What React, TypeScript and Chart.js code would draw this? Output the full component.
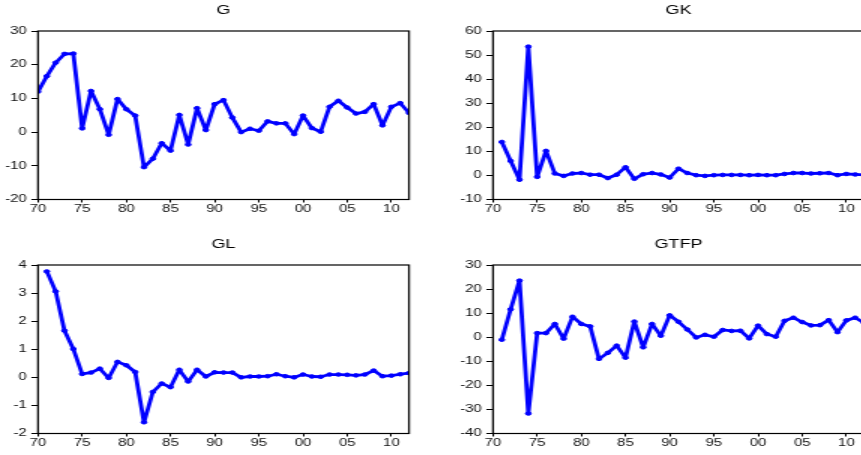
import React, { useEffect, useRef } from 'react';
import { Chart, registerables } from 'chart.js';

Chart.register(...registerables);

// ---- data -------------------------------------------------------------
const years = [
  1970, 1971, 1972, 1973, 1974, 1975, 1976, 1977, 1978, 1979,
  1980, 1981, 1982, 1983, 1984, 1985, 1986, 1987, 1988, 1989,
  1990, 1991, 1992, 1993, 1994, 1995, 1996, 1997, 1998, 1999,
  2000, 2001, 2002, 2003, 2004, 2005, 2006, 2007, 2008, 2009,
  2010, 2011, 2012,
];

// G : 1970-2012
const gValues = [
  12.0, 16.6, 20.6, 23.2, 23.3, 1.1, 12.2, 6.8, -0.8, 9.8,
  6.8, 4.9, -10.4, -7.9, -3.3, -5.5, 5.1, -3.7, 7.1, 0.6,
  8.3, 9.5, 4.3, 0.0, 1.0, 0.4, 3.2, 2.6, 2.6, -0.6,
  4.9, 1.2, 0.1, 7.5, 9.3, 7.3, 5.5, 6.0, 8.3, 2.0,
  7.5, 8.6, 5.7,
];

// GK : 1971-2012
const gkValues = [
  13.9, 6.0, -1.8, 53.5, -0.6, 10.2, 0.8, -0.2, 0.8,
  1.0, 0.3, 0.3, -1.1, 0.3, 3.4, -1.4, 0.5, 1.0, 0.4,
  -0.9, 2.8, 1.0, 0.1, -0.2, 0.1, 0.2, 0.2, 0.2, 0.1,
  0.2, 0.1, 0.1, 0.6, 1.0, 1.0, 0.8, 0.9, 1.0, 0.1,
  0.6, 0.4, 0.2,
];

// GL : 1971-2012
const glValues = [
  3.77, 3.06, 1.66, 1.01, 0.12, 0.17, 0.31, -0.02, 0.55,
  0.43, 0.19, -1.6, -0.52, -0.22, -0.35, 0.27, -0.15, 0.27, 0.03,
  0.18, 0.17, 0.17, 0.0, 0.03, 0.03, 0.04, 0.11, 0.04, 0.0,
  0.10, 0.03, 0.02, 0.10, 0.10, 0.09, 0.07, 0.10, 0.24, 0.04,
  0.06, 0.11, 0.15,
];

// GTFP : 1971-2012
const gtfpValues = [
  -1.05, 11.6, 23.5, -31.7, 1.7, 1.7, 5.5, -0.6, 8.5,
  5.5, 4.5, -9.0, -6.5, -3.5, -8.5, 6.5, -4.2, 5.5, 0.6,
  9.1, 6.4, 3.2, -0.1, 1.0, 0.2, 3.0, 2.6, 2.7, -0.5,
  4.8, 1.3, 0.2, 6.8, 8.1, 6.3, 4.9, 5.0, 7.1, 2.1,
  7.0, 8.1, 6.0,
];

const titles = ['G', 'GK', 'GL', 'GTFP'];
const xTickStep = 5;

// ---- styling ----------------------------------------------------------
const STRETCH = 1.5;
const FONT = '"Liberation Sans", Arial, Helvetica, sans-serif';
const LINE_BLUE = '#0000ff';
const CANVAS_W = 290;
const CANVAS_H = 225;

const framePlugin = {
  id: 'frame',
  afterDraw(chart: any) {
    const { ctx, chartArea } = chart;
    ctx.save();
    ctx.strokeStyle = '#000';
    ctx.lineWidth = 1.2;
    ctx.strokeRect(
      chartArea.left,
      chartArea.top,
      chartArea.right - chartArea.left,
      chartArea.bottom - chartArea.top
    );
    ctx.restore();
  },
};

type PanelProps = {
  left: number;
  top: number;
  title: string;
  xs: number[];
  ys: number[];
  yMin: number;
  yMax: number;
  yStep: number;
};

function Panel({ left, top, title, xs, ys, yMin, yMax, yStep }: PanelProps) {
  const ref = useRef<HTMLCanvasElement | null>(null);

  useEffect(() => {
    if (!ref.current) return;
    const chart = new Chart(ref.current, {
      type: 'line',
      data: {
        datasets: [
          {
            data: xs.map((x, i) => ({ x, y: ys[i] })),
            borderColor: LINE_BLUE,
            backgroundColor: LINE_BLUE,
            borderWidth: 2.8,
            borderJoinStyle: 'round',
            borderCapStyle: 'round',
            pointRadius: 1.8,
            pointBorderWidth: 1,
            pointBackgroundColor: LINE_BLUE,
            pointBorderColor: LINE_BLUE,
            tension: 0,
          },
        ],
      },
      options: {
        animation: false,
        responsive: true,
        maintainAspectRatio: false,
        devicePixelRatio: 1,
        layout: { padding: { left: 0, right: 17.33, top: 0, bottom: 0 } },
        plugins: {
          legend: { display: false },
          tooltip: { enabled: false },
          title: {
            display: true,
            text: title,
            fullSize: false,
            color: '#000',
            font: { family: FONT, size: 12, weight: 'normal', lineHeight: 1.2 },
            padding: { top: 3.6, bottom: 13 },
          },
        },
        scales: {
          x: {
            type: 'linear',
            min: 1970,
            max: 2012,
            border: { display: false },
            grid: {
              drawOnChartArea: false,
              drawTicks: true,
              tickLength: 3,
              color: '#000',
              lineWidth: 1,
            },
            ticks: {
              stepSize: xTickStep,
              includeBounds: false,
              autoSkip: false,
              maxRotation: 0,
              padding: 2,
              color: '#111',
              font: { family: FONT, size: 10, lineHeight: 1 },
              callback: (v: any) => String(Number(v) % 100).padStart(2, '0'),
            },
            afterFit: (s: any) => {
              s.height = 25.5;
            },
          },
          y: {
            type: 'linear',
            min: yMin,
            max: yMax,
            border: { display: false },
            grid: {
              drawOnChartArea: false,
              drawTicks: true,
              tickLength: 4.4,
              color: '#000',
              lineWidth: 1,
            },
            ticks: {
              stepSize: yStep,
              padding: 3,
              color: '#111',
              font: { family: FONT, size: 10, lineHeight: 1 },
            },
            afterFit: (s: any) => {
              s.width = 25.33;
            },
          },
        },
      },
      plugins: [framePlugin],
    } as any);
    return () => chart.destroy();
  }, [xs, ys, yMin, yMax, yStep, title]);

  return (
    <div
      style={{
        position: 'absolute',
        left,
        top,
        width: CANVAS_W,
        height: CANVAS_H,
        transform: `scaleX(${STRETCH})`,
        transformOrigin: '0 0',
      }}
    >
      <canvas ref={ref} />
    </div>
  );
}

const yearsFrom71 = years.slice(1);

export default function App() {
  return (
    <div
      style={{
        position: 'fixed',
        left: 0,
        top: 0,
        width: 861,
        height: 455,
        overflow: 'hidden',
        background: '#fff',
      }}
    >
      <Panel left={0} top={0} title={titles[0]} xs={years} ys={gValues} yMin={-20} yMax={30} yStep={10} />
      <Panel left={454.7} top={0} title={titles[1]} xs={yearsFrom71} ys={gkValues} yMin={-10} yMax={60} yStep={10} />
      <Panel left={0} top={233.5} title={titles[2]} xs={yearsFrom71} ys={glValues} yMin={-2} yMax={4} yStep={1} />
      <Panel left={454.7} top={233.5} title={titles[3]} xs={yearsFrom71} ys={gtfpValues} yMin={-40} yMax={30} yStep={10} />
    </div>
  );
}
